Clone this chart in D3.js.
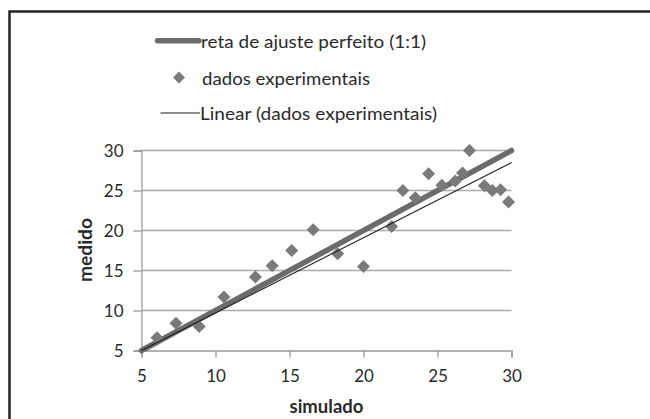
<!DOCTYPE html>
<html>
<head>
<meta charset="utf-8">
<script src="https://cdn.jsdelivr.net/npm/d3@7"></script>
<style>
  html, body { margin: 0; padding: 0; background: #fff; }
  svg { display: block; }
  text { font-family: Lato, "Open Sans", sans-serif; fill: #2a2a2a; }
</style>
</head>
<body>
<svg id="chart" width="650" height="419"></svg>
<script>
// ---- data ----
const simulado = [6.05, 7.33, 8.9, 10.57, 12.7, 13.83, 15.15, 16.6, 18.25, 20.0, 21.9,
                  22.66, 23.5, 24.4, 25.3, 26.2, 26.69, 27.16, 28.17, 28.7, 29.26, 29.8];
const medido   = [6.6, 8.4, 8.0, 11.7, 14.2, 15.6, 17.5, 20.1, 17.1, 15.5, 20.5,
                  25.0, 24.1, 27.1, 25.65, 26.2, 27.2, 30.0, 25.6, 25.0, 25.1, 23.55];
const perfeitoX = [5, 30];
const perfeitoY = [5, 30];
const linearX = [5, 30];
const linearY = [5.0, 28.5];
const xTicks = [5, 10, 15, 20, 25, 30];
const yTicks = [5, 10, 15, 20, 25, 30];
const legendLabels = ["reta de ajuste perfeito (1:1)", "dados experimentais", "Linear (dados experimentais)"];
const xTitle = "simulado";
const yTitle = "medido";

const svg = d3.select("#chart");
svg.append("rect").attr("width", 650).attr("height", 419).attr("fill", "#fff");

// frame
svg.append("rect").attr("x", 9.5).attr("y", 11.5).attr("width", 700).attr("height", 500)
  .attr("fill", "none").attr("stroke", "#262626").attr("stroke-width", 2.5);

const x = d3.scaleLinear().domain([5, 30]).range([141.5, 511.5]);
const y = d3.scaleLinear().domain([5, 30]).range([350.5, 150.5]);

// gridlines
svg.append("g").selectAll("line").data(yTicks.filter(d => d > 5)).join("line")
  .attr("x1", x(5)).attr("x2", x(30)).attr("y1", d => y(d)).attr("y2", d => y(d))
  .attr("stroke", "#ababab").attr("stroke-width", 1.3);

// axes
const yAxis = svg.append("g").attr("transform", `translate(${x(5)},0)`)
  .call(d3.axisLeft(y).tickValues(yTicks).tickSize(8).tickPadding(10));
const xAxis = svg.append("g").attr("transform", `translate(0,${y(5)})`)
  .call(d3.axisBottom(x).tickValues(xTicks).tickSize(7).tickPadding(12));
[yAxis, xAxis].forEach(g => {
  g.select(".domain").attr("stroke", "#9a9a9a").attr("stroke-width", 1.3);
  g.selectAll(".tick line").attr("stroke", "#9a9a9a").attr("stroke-width", 1.3);
  g.selectAll(".tick text").attr("font-family", "Lato, 'Open Sans', sans-serif")
    .attr("font-size", 17).attr("fill", "#333");
});
yAxis.selectAll(".tick text").attr("dy", "0.36em");
xAxis.selectAll(".tick text").attr("dy", "0.71em");

// 1:1 line
const line = d3.line().x(d => x(d[0])).y(d => y(d[1]));
svg.append("path").datum(d3.zip(perfeitoX, perfeitoY)).attr("d", line)
  .attr("fill", "none").attr("stroke", "#6b6b6b").attr("stroke-width", 5.5)
  .attr("stroke-linecap", "round");

// points
const sym = d3.symbol().type(d3.symbolSquare).size(85);
svg.append("g").selectAll("path").data(d3.zip(simulado, medido)).join("path")
  .attr("d", sym)
  .attr("transform", d => `translate(${x(d[0])},${y(d[1])}) rotate(45)`)
  .attr("fill", "#7a7a7a");

// linear trend
svg.append("path").datum(d3.zip(linearX, linearY)).attr("d", line)
  .attr("fill", "none").attr("stroke", "#1e1e1e").attr("stroke-width", 1.1);

// legend
const lg = svg.append("g");
lg.append("line").attr("x1", 157.5).attr("x2", 199).attr("y1", 40.7).attr("y2", 40.7)
  .attr("stroke", "#6b6b6b").attr("stroke-width", 5.5).attr("stroke-linecap", "round");
lg.append("path").attr("d", d3.symbol().type(d3.symbolSquare).size(70))
  .attr("transform", "translate(179,77.5) rotate(45)").attr("fill", "#7a7a7a");
lg.append("line").attr("x1", 160.5).attr("x2", 200).attr("y1", 113).attr("y2", 113)
  .attr("stroke", "#1e1e1e").attr("stroke-width", 1.1);
const legX = [201, 202, 200];
const legY = [48, 84.5, 120];
const legW = [225, 168, 237];
lg.selectAll("text").data(legendLabels).join("text")
  .attr("x", (d, i) => legX[i]).attr("y", (d, i) => legY[i])
  .attr("font-size", 17.5)
  .attr("textLength", (d, i) => legW[i]).attr("lengthAdjust", "spacingAndGlyphs")
  .text(d => d);

// axis titles
svg.append("text").attr("x", 326.5).attr("y", 412.5).attr("text-anchor", "middle")
  .attr("font-size", 18).attr("font-weight", "bold")
  .attr("textLength", 74).attr("lengthAdjust", "spacingAndGlyphs").text(xTitle);
svg.append("text").attr("transform", "translate(92,250) rotate(-90)").attr("text-anchor", "middle")
  .attr("font-size", 18).attr("font-weight", "bold")
  .attr("textLength", 64).attr("lengthAdjust", "spacingAndGlyphs").text(yTitle);
</script>
</body>
</html>
